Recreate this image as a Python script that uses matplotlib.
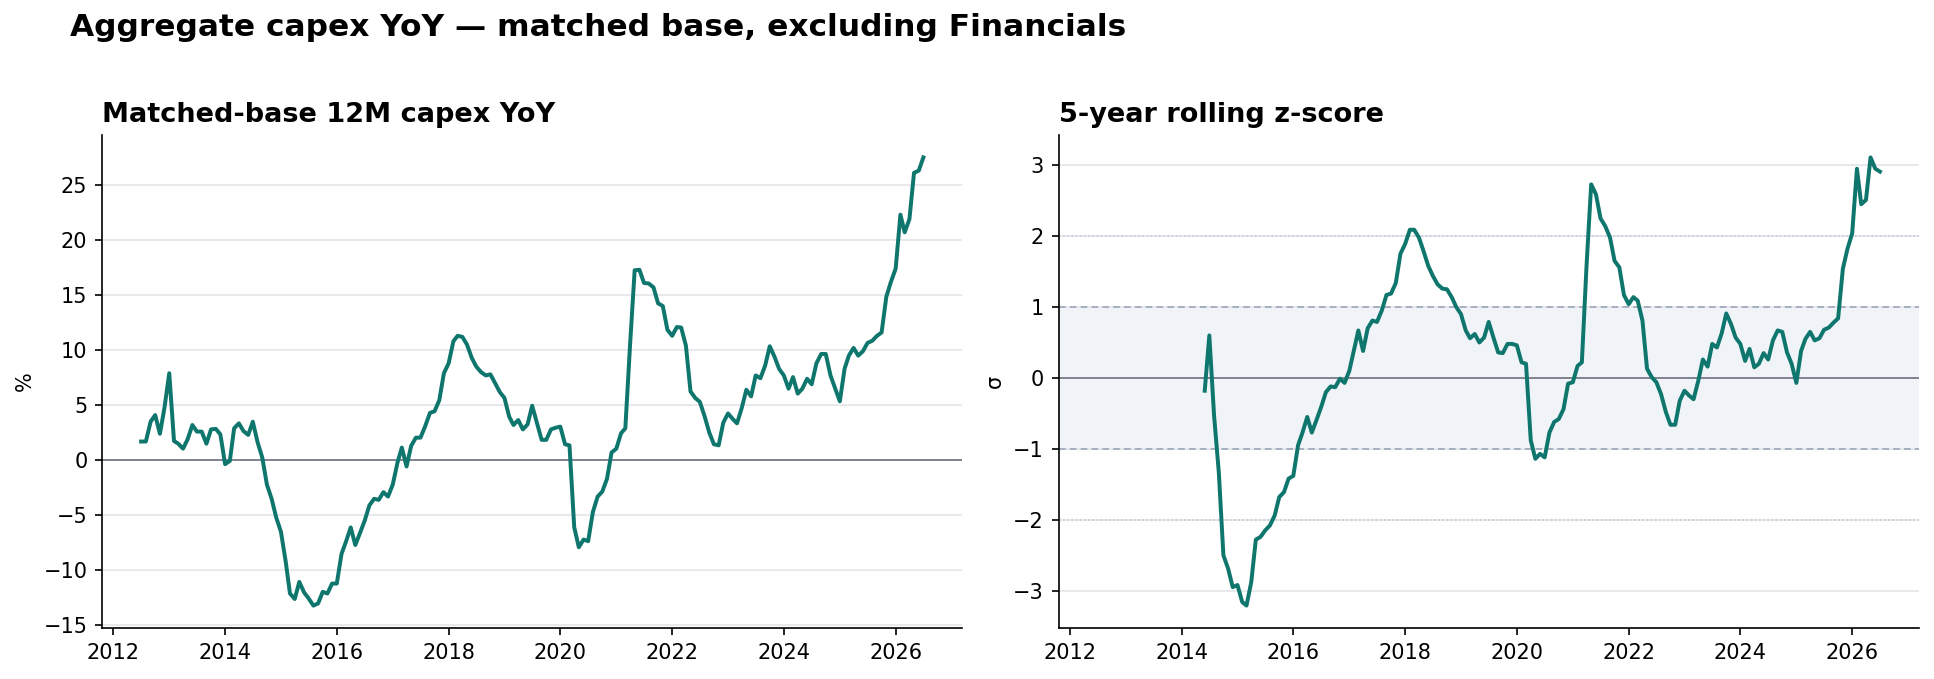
import numpy as np
import pandas as pd
import matplotlib
matplotlib.use("Agg")
import matplotlib.pyplot as plt

# ---- data ----
dates = pd.date_range("2012-07-01", "2026-07-01", freq="MS")

yoy = [
    1.7, 1.7, 3.5, 4.1, 2.4, 4.8, 7.9, 1.75, 1.5, 1.05, 1.9, 3.2,
    2.6, 2.6, 1.5, 2.8, 2.85, 2.35, -0.36, -0.06, 2.9, 3.35, 2.65, 2.3,
    3.5, 1.65, 0.24, -2.2, -3.5, -5.2, -6.5, -9.2, -12.1, -12.6, -11.05, -12.0,
    -12.55, -13.2, -13.0, -11.95, -12.1, -11.2, -11.2, -8.5, -7.4, -6.1, -7.7, -6.6,
    -5.5, -4.1, -3.5, -3.6, -2.9, -3.3, -2.2, -0.2, 1.15, -0.57, 1.3, 2.05,
    2.05, 3.1, 4.3, 4.45, 5.45, 7.9, 8.8, 10.8, 11.3, 11.2, 10.5, 9.3,
    8.5, 8.0, 7.7, 7.8, 7.0, 6.2, 5.65, 3.95, 3.2, 3.65, 2.8, 3.25,
    4.95, 3.4, 1.85, 1.85, 2.8, 2.95, 3.05, 1.45, 1.35, -6.1, -7.9, -7.2,
    -7.35, -4.7, -3.3, -2.85, -1.7, 0.7, 1.05, 2.45, 2.9, 10.5, 17.25, 17.3,
    16.1, 16.05, 15.7, 14.25, 14.0, 11.85, 11.3, 12.1, 12.05, 10.4, 6.25, 5.65,
    5.3, 4.0, 2.5, 1.45, 1.35, 3.4, 4.25, 3.75, 3.35, 4.75, 6.4, 5.8,
    7.7, 7.45, 8.6, 10.35, 9.4, 8.3, 7.7, 6.5, 7.55, 6.05, 6.5, 7.4,
    6.9, 8.8, 9.65, 9.65, 7.7, 6.55, 5.35, 8.3, 9.5, 10.2, 9.5, 9.9,
    10.65, 10.85, 11.3, 11.6, 14.85, 16.2, 17.4, 22.3, 20.7, 21.9, 26.1, 26.3,
    27.5,
]

zscore_valid = [
    -0.18, 0.6, -0.53, -1.33, -2.5, -2.69, -2.95, -2.92, -3.16, -3.21, -2.88, -2.28,
    -2.24, -2.15, -2.08, -1.94, -1.68, -1.61, -1.42, -1.38, -0.95, -0.77, -0.55, -0.77,
    -0.59, -0.41, -0.2, -0.12, -0.13, -0.01, -0.07, 0.1, 0.4, 0.67, 0.38, 0.7,
    0.81, 0.79, 0.95, 1.17, 1.19, 1.34, 1.75, 1.89, 2.09, 2.09, 1.98, 1.79,
    1.58, 1.44, 1.32, 1.26, 1.25, 1.14, 1.0, 0.9, 0.67, 0.56, 0.62, 0.5,
    0.57, 0.79, 0.57, 0.36, 0.35, 0.48, 0.48, 0.46, 0.22, 0.2, -0.88, -1.14,
    -1.07, -1.12, -0.77, -0.62, -0.58, -0.44, -0.08, -0.06, 0.17, 0.22, 1.6, 2.73,
    2.59, 2.25, 2.14, 1.98, 1.65, 1.56, 1.17, 1.04, 1.14, 1.09, 0.81, 0.13,
    0.01, -0.06, -0.23, -0.48, -0.66, -0.66, -0.32, -0.18, -0.25, -0.3, -0.04, 0.26,
    0.16, 0.48, 0.43, 0.63, 0.91, 0.76, 0.57, 0.48, 0.24, 0.41, 0.15, 0.2,
    0.35, 0.26, 0.53, 0.67, 0.65, 0.36, 0.2, -0.07, 0.38, 0.55, 0.65, 0.53,
    0.56, 0.68, 0.71, 0.78, 0.84, 1.54, 1.82, 2.04, 2.95, 2.45, 2.51, 3.11,
    2.95, 2.91,
]
n_missing = len(dates) - len(zscore_valid)
zscore = [np.nan] * n_missing + zscore_valid

# ---- style ----
TEAL = "#0f766e"
GRID = "#e3e5ea"
ZERO = "#7c7f8c"
BAND = "#f0f4f9"
BANDLINE = "#9aa5b8"

plt.rcParams["font.family"] = ["DejaVu Sans"]

fig, (ax1, ax2) = plt.subplots(1, 2, figsize=(1934 / 150, 679 / 150), dpi=150)
fig.subplots_adjust(left=102 / 1934, right=1919 / 1934, bottom=1 - 628 / 679,
                    top=1 - 135 / 679, wspace=96 / 860)

for ax in (ax1, ax2):
    ax.spines["top"].set_visible(False)
    ax.spines["right"].set_visible(False)
    ax.yaxis.grid(True, color=GRID, linewidth=0.8)
    ax.set_axisbelow(True)
    ax.tick_params(labelsize=10)

# left panel
ax1.plot(dates, yoy, color=TEAL, linewidth=1.9, zorder=3)
ax1.axhline(0, color=ZERO, linewidth=0.9, zorder=2)
ax1.set_ylabel("%", fontsize=10)
ax1.set_title("Matched-base 12M capex YoY", loc="left", fontsize=13,
              fontweight="bold", pad=6)
ax1.set_yticks([-15, -10, -5, 0, 5, 10, 15, 20, 25])

# right panel
ax2.axhspan(-1, 1, color=BAND, zorder=0, linewidth=0)
for v in (-1, 1):
    ax2.axhline(v, color=BANDLINE, linewidth=0.8, linestyle=(0, (4, 2.5)), zorder=1)
for v in (-2, 2):
    ax2.axhline(v, color="#c5ccd8", linewidth=0.8, linestyle=(0, (1, 1.5)), zorder=1)
ax2.axhline(0, color=ZERO, linewidth=0.9, zorder=2)
ax2.plot(dates, zscore, color=TEAL, linewidth=1.9, zorder=3)
ax2.set_ylabel("σ", fontsize=10)
ax2.set_title("5-year rolling z-score", loc="left", fontsize=13,
              fontweight="bold", pad=6)
ax2.set_xlim(ax1.get_xlim())

fig.suptitle("Aggregate capex YoY — matched base, excluding Financials",
             x=70 / 1934, y=1 - 13 / 679, ha="left", va="top",
             fontsize=15, fontweight="bold")

fig.savefig("out.png", dpi=150)
